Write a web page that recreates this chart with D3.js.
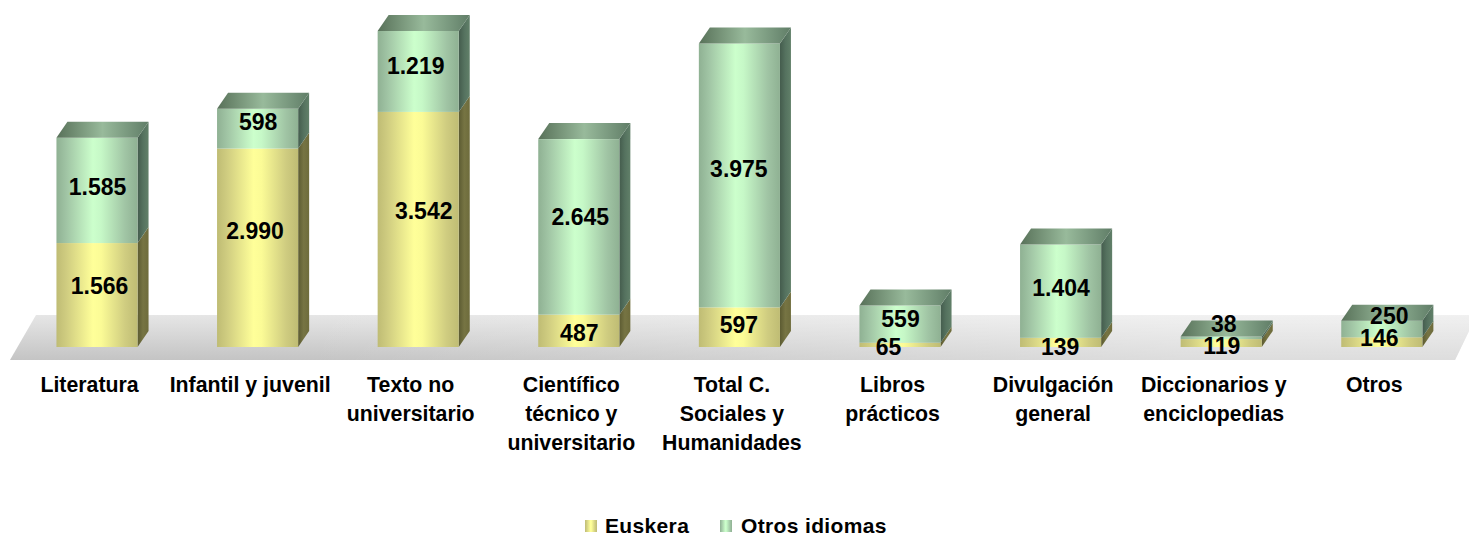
<!DOCTYPE html>
<html><head><meta charset="utf-8">
<script src="https://cdn.jsdelivr.net/npm/d3@7"></script>
<style>html,body{margin:0;padding:0;background:#fff}svg{display:block}text{font-family:"Liberation Sans",Arial,sans-serif;font-weight:700;fill:#000}</style>
</head><body><svg id="c" width="1469" height="535"></svg>
<script>
const categories=["Literatura","Infantil y juvenil","Texto no\nuniversitario","Científico\ntécnico y\nuniversitario","Total C.\nSociales y\nHumanidades","Libros\nprácticos","Divulgación\ngeneral","Diccionarios y\nenciclopedias","Otros"];
const euskera=[1566,2990,3542,487,597,65,139,119,146];
const otros=[1585,598,1219,2645,3975,559,1404,38,250];
const seriesNames=["Euskera","Otros idiomas"];
// label nudges relative to each segment's centre: [dx,dy] in px
const nudgeEuskera=[[0,-9],[-5,-17],[3,-19],[-2,2],[-3,-2],[-14,2],[-3,4],[-2,3],[-5,-4]];
const nudgeOtros=[[-2,-4],[-2,-7],[-5,-6],[-1,-10],[-3,-7],[-2,-5],[-2,-3],[0,-14],[5,-13]];
const fmt=v=>d3.format(",")(v).replace(/,/g,".");
const svg=d3.select("#c"),defs=svg.append("defs");
const base=347,dX=11,dY=16;
const x=d3.scaleBand().domain(categories).range([16.7,1462.1]).paddingInner(.495).paddingOuter(.2475);
const y=d3.scaleLinear().domain([0,4761]).range([base,31]);
function hGrad(id,stops){const g=defs.append("linearGradient").attr("id",id).attr("x1",0).attr("x2",1).attr("y1",0).attr("y2",0);
 stops.forEach(([o,c])=>g.append("stop").attr("offset",o).attr("stop-color",c));}
hGrad("gY",[[0,"#bfbc74"],[.12,"#cfcc80"],[.45,"#ffff99"],[.55,"#fbfb96"],[.85,"#cfcc80"],[1,"#bfbc74"]]);
hGrad("gG",[[0,"#8fb193"],[.12,"#a0c4a4"],[.45,"#ccffcc"],[.55,"#c6f8c7"],[.85,"#a0c4a4"],[1,"#8fb193"]]);
hGrad("gT",[[0,"#587159"],[.5,"#98ba9b"],[1,"#607d67"]]);
hGrad("gSY",[[0,"#5c5b32"],[.5,"#767443"],[1,"#6e6c3c"]]);
hGrad("gSG",[[0,"#445c4d"],[.5,"#55725f"],[1,"#618069"]]);
const fl=defs.append("linearGradient").attr("id","gF").attr("x1",0).attr("x2",0).attr("y1",0).attr("y2",1);
fl.append("stop").attr("offset",0).attr("stop-color","#e6e6e6");fl.append("stop").attr("offset",1).attr("stop-color","#c4c4c4");
const flL=defs.append("linearGradient").attr("id","gFL").attr("x1",0).attr("x2",1).attr("y1",0).attr("y2",0);
flL.append("stop").attr("offset",.2).attr("stop-color","#fff").attr("stop-opacity",0);flL.append("stop").attr("offset",.8).attr("stop-color","#fff").attr("stop-opacity",.42);
// floor
const floorD="M36,315L1469,315L1469,331L1455,360L10,360Z";
svg.append("path").attr("d",floorD).attr("fill","url(#gF)");
svg.append("path").attr("d",floorD).attr("fill","url(#gFL)");
const poly=p=>"M"+p.map(q=>q.join(",")).join("L")+"Z";
const rows=categories.map((c,i)=>({c,i,e:euskera[i],o:otros[i]}));
function drawSeg(g,d,lo,hi,fill,side,top,isTop){
 const x0=x(d.c),x1=x0+x.bandwidth(),y0=y(lo),y1=y(hi);
 g.append("path").attr("d",poly([[x1,y0],[x1+dX,y0-dY],[x1+dX,y1-dY],[x1,y1]])).attr("fill",side);
 g.append("rect").attr("x",x0).attr("y",y1).attr("width",x1-x0).attr("height",y0-y1).attr("fill",fill);
 if(isTop)g.append("path").attr("d",poly([[x0,y1],[x0+dX,y1-dY],[x1+dX,y1-dY],[x1,y1]])).attr("fill",top);
}
const bars=svg.append("g");
rows.forEach(d=>{const g=bars.append("g");
 drawSeg(g,d,0,d.e,"url(#gY)","url(#gSY)",null,false);
 drawSeg(g,d,d.e,d.e+d.o,"url(#gG)","url(#gSG)","url(#gT)",true);});
// axis
const ax=svg.append("g").attr("transform","translate(-7.5,392)").call(d3.axisBottom(x).tickSize(0).tickFormat(""));
ax.select(".domain").remove();
ax.selectAll(".tick").each(function(c){const t=d3.select(this).attr("transform",`translate(${x(c)+x.bandwidth()/2},0)`).select("text").attr("y",0).attr("dy",0).attr("text-anchor","middle").style("font-size","21.3px").style("font-family",'"Liberation Sans",Arial,sans-serif').style("font-weight",700).attr("fill","#000");
 c.split("\n").forEach((l,i)=>t.append("tspan").attr("x",0).attr("y",i*29).text(l));});
// labels
const lab=svg.append("g").attr("text-anchor","middle").style("font-size","23px");
rows.forEach(d=>{
 [[0,d.e,nudgeEuskera[d.i],d.e],[d.e,d.e+d.o,nudgeOtros[d.i],d.o]].forEach(([lo,hi,n,v])=>{
  lab.append("text").attr("x",x(d.c)+x.bandwidth()/2+n[0]+dX/2-3).attr("y",(y(lo)+y(hi))/2+n[1]).attr("dy",".36em").text(fmt(v));});
});
// legend
const leg=svg.append("g");
[[585,605,"gY"],[720,741,"gG"]].forEach(([sx,tx,g],i)=>{
 leg.append("rect").attr("x",sx).attr("y",520).attr("width",12).attr("height",12).attr("fill",`url(#${g})`);
 leg.append("text").attr("x",tx).attr("y",533).style("font-size","21px").style("letter-spacing","0.35px").text(seriesNames[i]);});
</script></body></html>
